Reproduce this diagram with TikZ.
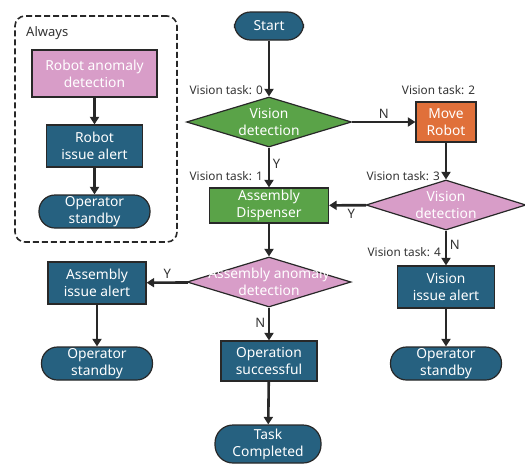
\documentclass[tikz,border=0pt]{standalone}
\usepackage{fontspec}
\setmainfont{Noto Sans}
\usetikzlibrary{shapes.geometric,arrows.meta,positioning}
\definecolor{alertblue}{RGB}{38,97,128}
\definecolor{checkpink}{RGB}{216,157,200}
\definecolor{dispgreen}{RGB}{90,163,72}
\definecolor{moveorange}{RGB}{224,112,58}
\definecolor{edgegray}{RGB}{40,40,40}
\definecolor{labelgray}{RGB}{51,51,51}

\begin{document}
\begin{tikzpicture}[x=1pt,y=-1pt,
	every node/.style={font=\fontsize{13.8}{17}\selectfont},
	box/.style={draw=edgegray,line width=1.2pt,text=white,align=center,inner sep=0pt},
	process/.style={box,rectangle},
	terminal/.style={box,rectangle,rounded corners=16pt,fill=alertblue},
	decision/.style={box,diamond,minimum width=164pt,minimum height=50pt},
	inside/.style={text=white,align=center,inner sep=0pt,font=\fontsize{13.8}{17}\selectfont},
	tasklbl/.style={text=labelgray,inner sep=0pt,font=\fontsize{11.8}{13}\selectfont},
	yn/.style={text=labelgray,inner sep=2.5pt,font=\fontsize{13}{15}\selectfont},
	flow/.style={draw=edgegray,line width=2.6pt,-{Triangle[length=7.5pt,width=9pt]}},
	alwaysframe/.style={draw=edgegray,line width=1.6pt,dash pattern=on 6pt off 3pt,rounded corners=10pt,inner sep=0pt}]
	\useasboundingbox (0,0) rectangle (525,464);
	% always running loop
	\node[alwaysframe,minimum width=162pt,minimum height=226pt] (always) at (96,129) {};
	\node[tasklbl,anchor=west,font=\fontsize{13}{15}\selectfont] (alwayslbl) at (26,33) {Always};
	\node[process,fill=checkpink,minimum width=125pt,minimum height=47pt] (robanom) at (94.5,73.5) {Robot anomaly\\detection};
	\node[process,fill=alertblue,minimum width=96pt,minimum height=42pt] (robissue) at (94.5,146) {Robot\\issue alert};
	\node[terminal,minimum width=111pt,minimum height=33pt] (standbyA) at (94.5,211.5) {Operator\\standby};
	% main column
	\node[terminal,minimum width=69pt,minimum height=28pt] (start) at (269,26) {Start};
	\node[decision,fill=dispgreen,minimum width=165pt,label={[inside]center:Vision\\detection}] (visdet) at (269,122) {};
	\node[process,fill=dispgreen,minimum width=119pt,minimum height=35pt] (disp) at (269,205.5) {Assembly\\Dispenser};
	\node[decision,fill=checkpink,label={[inside]center:Assembly anomaly\\detection}] (asmdet) at (269,282) {};
	\node[process,fill=alertblue,minimum width=96pt,minimum height=40pt] (opok) at (269,361) {Operation\\successful};
	\node[terminal,minimum width=106pt,minimum height=38pt,rounded corners=18pt] (done) at (268,444) {Task\\Completed};
	% assembly alert branch
	\node[process,fill=alertblue,minimum width=98pt,minimum height=42pt] (asmissue) at (97,283) {Assembly\\issue alert};
	\node[terminal,minimum width=111pt,minimum height=33pt] (standbyB) at (97,363.5) {Operator\\standby};
	% vision retry branch
	\node[process,fill=moveorange,minimum width=60pt,minimum height=40pt] (move) at (446,122) {Move\\Robot};
	\node[decision,fill=checkpink,minimum width=160pt,label={[inside]center:Vision\\detection}] (visdet2) at (446,205) {};
	\node[process,fill=alertblue,minimum width=97pt,minimum height=42pt] (visissue) at (446,287) {Vision\\issue alert};
	\node[terminal,minimum width=111pt,minimum height=33pt] (standbyC) at (446,363.5) {Operator\\standby};
	% task labels
	\node[tasklbl,anchor=east] (task0) at (263,90) {Vision task: 0};
	\node[tasklbl,anchor=east] (task1) at (263,176) {Vision task: 1};
	\node[tasklbl] (task2) at (438.5,90) {Vision task: 2};
	\node[tasklbl,anchor=east] (task3) at (440,176) {Vision task: 3};
	\node[tasklbl,anchor=east] (task4) at (441,252) {Vision task: 4};
	% connectors
	\draw[flow] (robanom) -- (robissue);
	\draw[flow] (robissue) -- (standbyA);
	\draw[flow] (start) -- (visdet);
	\draw[flow] (visdet) -- node[yn,right,pos=0.4] {Y} (disp);
	\draw[flow] (visdet) -- node[yn,above] {N} (move);
	\draw[flow] (move) -- (visdet2);
	\draw[flow] (visdet2) -- node[yn,below,pos=0.4] {Y} (disp);
	\draw[flow] (visdet2) -- node[yn,right,pos=0.4] {N} (visissue);
	\draw[flow] (visissue) -- (standbyC);
	\draw[flow] (disp) -- (asmdet);
	\draw[flow] (asmdet) -- node[yn,above] {Y} (asmissue);
	\draw[flow] (asmissue) -- (standbyB);
	\draw[flow] (asmdet) -- node[yn,left,pos=0.45] {N} (opok);
	\draw[flow] (opok) -- (done);
\end{tikzpicture}
\end{document}
